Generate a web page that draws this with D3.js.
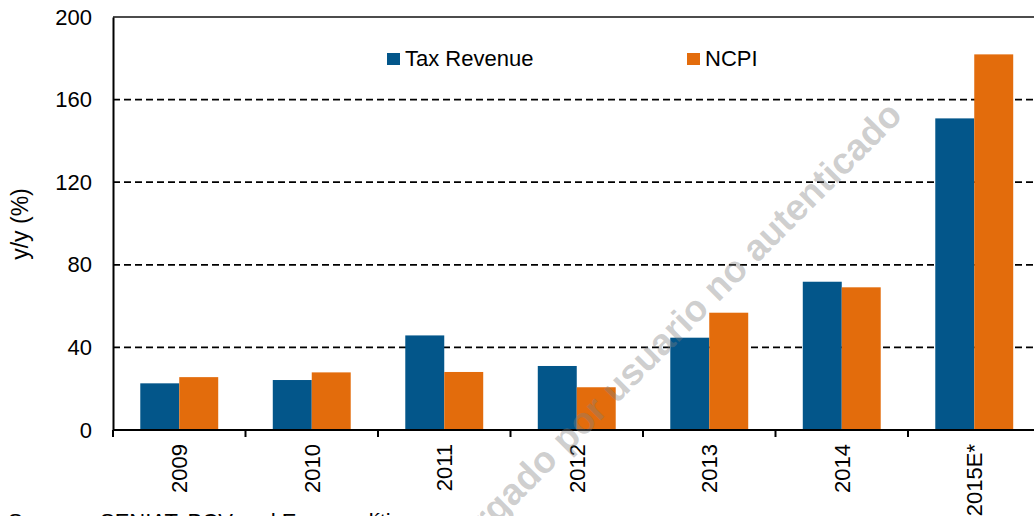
<!DOCTYPE html>
<html>
<head>
<meta charset="utf-8">
<script src="https://cdn.jsdelivr.net/npm/d3@7"></script>
<style>
  html, body { margin: 0; padding: 0; background: #fff; overflow: hidden; }
  svg { display: block; font-family: "Liberation Sans", Arial, sans-serif; }
</style>
</head>
<body>
<svg id="chart" width="1034" height="516"></svg>
<script>
const categories = ["2009", "2010", "2011", "2012", "2013", "2014", "2015E*"];
const seriesNames = ["Tax Revenue", "NCPI"];
const taxRevenue = [22.6, 24.2, 45.8, 31.0, 44.7, 71.8, 150.9];
const ncpi = [25.6, 27.9, 28.1, 20.7, 56.8, 69.1, 181.9];
const yTicks = [0, 40, 80, 120, 160, 200];
const colors = ["#03568a", "#e36c0c"];

const svg = d3.select("#chart");
const mLeft = 113, mTop = 17, mBottom = 430, bandW = 132.5;
const mRight = mLeft + bandW * categories.length;

const x = d3.scaleBand().domain(categories).range([mLeft, mRight]).padding(0);
const xs = d3.scaleBand().domain(seriesNames).range([0, x.bandwidth()]).paddingInner(0).paddingOuter(0.7);
const y = d3.scaleLinear().domain([0, 200]).range([mBottom, mTop]);

// gridlines
svg.append("g").selectAll("line")
  .data(yTicks.filter(d => d > 0 && d < 200))
  .join("line")
  .attr("x1", mLeft).attr("x2", mRight)
  .attr("y1", d => y(d)).attr("y2", d => y(d))
  .attr("stroke", "#000").attr("stroke-width", 1.8)
  .attr("stroke-dasharray", "7,4");
// top line
svg.append("line")
  .attr("x1", mLeft).attr("x2", mRight)
  .attr("y1", y(200)).attr("y2", y(200))
  .attr("stroke", "#111").attr("stroke-width", 1.5);

// bars
const data = categories.map((c, i) => ({ cat: c, vals: [taxRevenue[i], ncpi[i]] }));
const groups = svg.append("g").selectAll("g")
  .data(data).join("g")
  .attr("transform", d => `translate(${x(d.cat)},0)`);
groups.selectAll("rect")
  .data(d => d.vals.map((v, j) => ({ s: seriesNames[j], v, j })))
  .join("rect")
  .attr("x", d => xs(d.s))
  .attr("width", xs.bandwidth())
  .attr("y", d => y(d.v))
  .attr("height", d => y(0) - y(d.v))
  .attr("fill", d => colors[d.j]);

// y axis
const yAxis = d3.axisLeft(y).tickValues(yTicks).tickSize(0).tickPadding(21);
const gy = svg.append("g").attr("transform", `translate(${mLeft},0)`).call(yAxis);
gy.select(".domain").attr("stroke", "#000").attr("stroke-width", 2);
gy.selectAll("text").attr("font-size", 22).attr("fill", "#000")
  .attr("font-family", "'Liberation Sans', Arial, sans-serif");

// x axis
const tickPositions = d3.range(categories.length + 1).map(i => mLeft + i * bandW);
const gx = svg.append("g");
gx.append("line").attr("x1", mLeft).attr("x2", mRight).attr("y1", mBottom).attr("y2", mBottom)
  .attr("stroke", "#000").attr("stroke-width", 2);
gx.selectAll("line.tick").data(tickPositions).join("line").attr("class", "tick")
  .attr("x1", d => d).attr("x2", d => d).attr("y1", mBottom).attr("y2", mBottom + 7)
  .attr("stroke", "#000").attr("stroke-width", 2);
gx.selectAll("text").data(categories).join("text")
  .attr("transform", d => `translate(${x(d) + x.bandwidth() / 2},${mBottom + 14}) rotate(-90)`)
  .attr("dy", "0.36em")
  .attr("text-anchor", "end")
  .attr("font-size", 22)
  .attr("fill", "#000")
  .text(d => d);

// y label
svg.append("text")
  .attr("transform", "translate(28,224) rotate(-90)")
  .attr("text-anchor", "middle")
  .attr("font-size", 23)
  .attr("fill", "#000")
  .text("y/y (%)");

// legend
const legendX = [387, 687];
const lg = svg.append("g").selectAll("g").data(seriesNames).join("g")
  .attr("transform", (d, i) => `translate(${legendX[i]},0)`);
lg.append("rect").attr("x", 0).attr("y", 53).attr("width", 13).attr("height", 12)
  .attr("fill", (d, i) => colors[i]);
lg.append("text").attr("x", 18).attr("y", 66).attr("font-size", 22).attr("fill", "#000")
  .text(d => d);

// source
svg.append("text").attr("x", 8).attr("y", 529).attr("font-size", 22).attr("fill", "#000")
  .text("Source:");
svg.append("text").attr("x", 100).attr("y", 529).attr("font-size", 22).attr("fill", "#000")
  .text("SENIAT, BCV and Econanalítica");

// watermark
svg.append("text")
  .attr("transform", "translate(904,117) rotate(-45)")
  .attr("text-anchor", "end")
  .attr("font-size", 37)
  .attr("font-weight", "bold")
  .attr("fill", "#808080")
  .attr("fill-opacity", 0.38)
  .text("Descargado por usuario no autenticado");
</script>
</body>
</html>
